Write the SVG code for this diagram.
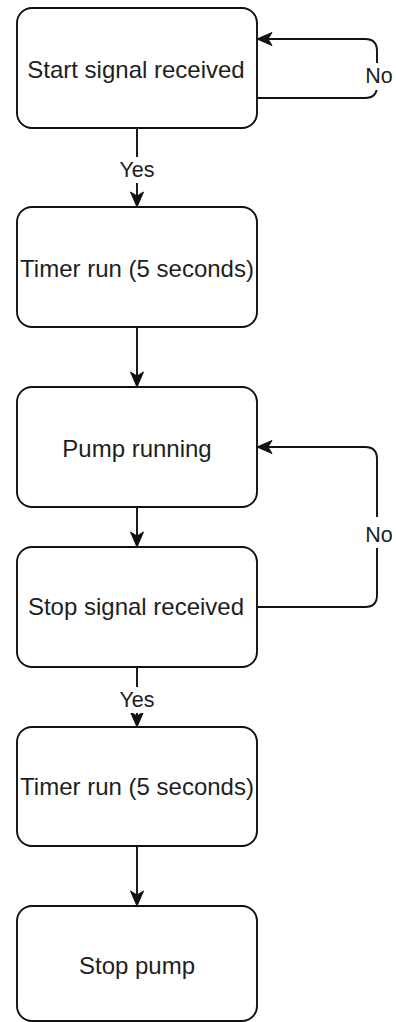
<svg xmlns="http://www.w3.org/2000/svg" width="396" height="1022" viewBox="0 0 396 1022">
  <style>
    .box { fill: #ffffff; stroke: #111111; stroke-width: 1.9; }
    .label { font-family: "Liberation Sans", Arial, sans-serif; font-size: 24px; fill: #1e1e1e; text-anchor: middle; }
    .edge { fill: none; stroke: #111111; stroke-width: 1.9; marker-end: url(#arrow); }
    .edge-label { font-family: "Liberation Sans", Arial, sans-serif; font-size: 21.5px; fill: #1e1e1e; text-anchor: middle; }
    .label-bg { fill: #ffffff; }
  </style>
  <defs>
    <marker id="arrow" markerUnits="userSpaceOnUse" markerWidth="20" markerHeight="20" viewBox="-6 -10 20 20" refX="0" refY="0" orient="auto" overflow="visible">
      <path d="M-4,-6.5 L11,0 L-4,6.5 L0,0 Z" fill="#111111" stroke="#111111" stroke-width="1" stroke-linejoin="miter"/>
    </marker>
  </defs>

  <rect width="396" height="1022" fill="#ffffff"/>

  <!-- connectors -->
  <g id="connectors">
    <!-- start signal: Yes -->
    <path class="edge" d="M137,128 L137,196"/>
    <rect class="label-bg" x="118" y="157" width="38" height="26"/>
    <text class="edge-label" x="137" y="177">Yes</text>

    <!-- start signal: No (loop back) -->
    <path class="edge" d="M257,98 L365,98 Q377,98 377,86 L377,51 Q377,39 365,39 L268,39"/>
    <rect class="label-bg" x="363" y="63" width="32" height="27"/>
    <text class="edge-label" x="379" y="83">No</text>

    <!-- timer -> pump running -->
    <path class="edge" d="M137,327 L137,376"/>

    <!-- pump running -> stop signal -->
    <path class="edge" d="M137,507 L137,536"/>

    <!-- stop signal: No (loop back to pump running) -->
    <path class="edge" d="M257,607 L365,607 Q377,607 377,595 L377,459 Q377,447 365,447 L268,447"/>
    <rect class="label-bg" x="363" y="517" width="32" height="31"/>
    <text class="edge-label" x="379" y="542">No</text>

    <!-- stop signal: Yes -->
    <path class="edge" d="M137,667 L137,716"/>
    <rect class="label-bg" x="118" y="687" width="38" height="26"/>
    <text class="edge-label" x="137" y="707">Yes</text>

    <!-- timer -> stop pump -->
    <path class="edge" d="M137,846 L137,895"/>
  </g>

  <!-- nodes -->
  <g id="start-signal">
    <rect class="box" x="17" y="8" width="240" height="120" rx="15" ry="15"/>
    <text class="label" x="136" y="78">Start signal received</text>
  </g>
  <g id="timer-start">
    <rect class="box" x="17" y="207" width="240" height="120" rx="15" ry="15"/>
    <text class="label" x="137" y="277">Timer run (5 seconds)</text>
  </g>
  <g id="pump-running">
    <rect class="box" x="17" y="387" width="240" height="120" rx="15" ry="15"/>
    <text class="label" x="137" y="457">Pump running</text>
  </g>
  <g id="stop-signal">
    <rect class="box" x="17" y="547" width="240" height="120" rx="15" ry="15"/>
    <text class="label" x="136" y="615">Stop signal received</text>
  </g>
  <g id="timer-stop">
    <rect class="box" x="17" y="727" width="240" height="119" rx="15" ry="15"/>
    <text class="label" x="137" y="795">Timer run (5 seconds)</text>
  </g>
  <g id="stop-pump">
    <rect class="box" x="17" y="906" width="240" height="115" rx="15" ry="15"/>
    <text class="label" x="137" y="974">Stop pump</text>
  </g>
</svg>
